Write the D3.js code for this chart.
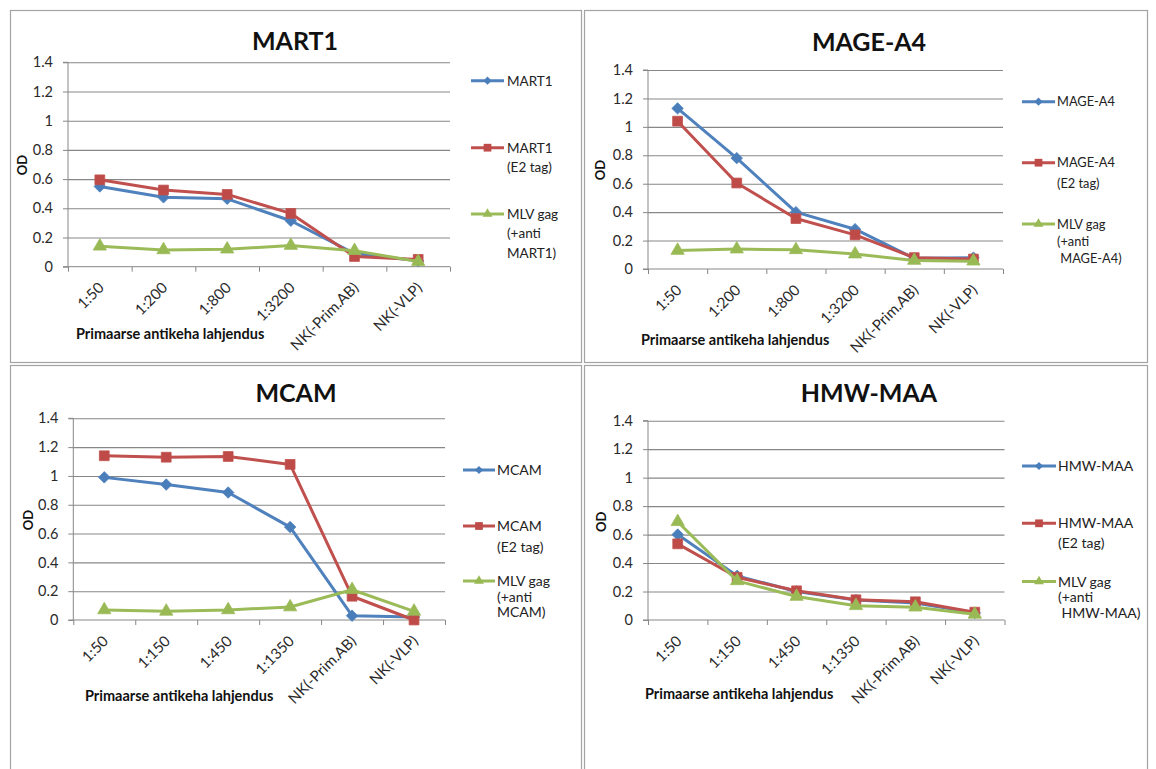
<!DOCTYPE html>
<html>
<head>
<meta charset="utf-8">
<script src="https://cdn.jsdelivr.net/npm/d3@7"></script>
<style>
  body { margin: 0; background: #fff; }
  svg { display: block; }
  text { font-family: Lato, "Noto Sans", sans-serif; }
</style>
</head>
<body>
<svg id="chart" width="1156" height="769"></svg>
<script>
// Dilution steps on the x axis
const dilutionsA = ["1:50", "1:200", "1:800", "1:3200", "NK(-Prim.AB)", "NK(-VLP)"];
const dilutionsB = ["1:50", "1:150", "1:450", "1:1350", "NK(-Prim.AB)", "NK(-VLP)"];
const odTicks = [0, 0.2, 0.4, 0.6, 0.8, 1, 1.2, 1.4];
const panelTitles = ["MART1", "MAGE-A4", "MCAM", "HMW-MAA"];
const xAxisTitle = "Primaarse antikeha lahjendus";
const yAxisTitle = "OD";

// OD readings per antigen: VLP, VLP with E2 tag, MLV gag control
const mart1 = [0.55, 0.475, 0.465, 0.315, 0.09, 0.04];
const mart1E2 = [0.595, 0.525, 0.495, 0.365, 0.07, 0.05];
const mart1Gag = [0.14, 0.115, 0.12, 0.145, 0.11, 0.035];

const mageA4 = [1.13, 0.78, 0.40, 0.28, 0.075, 0.08];
const mageA4E2 = [1.04, 0.605, 0.355, 0.24, 0.08, 0.07];
const mageA4Gag = [0.13, 0.14, 0.135, 0.105, 0.06, 0.055];

const mcam = [0.99, 0.94, 0.885, 0.645, 0.03, 0.02];
const mcamE2 = [1.14, 1.13, 1.135, 1.08, 0.165, 0.0];
const mcamGag = [0.07, 0.06, 0.07, 0.09, 0.21, 0.06];

const hmwMaa = [0.60, 0.31, 0.20, 0.14, 0.12, 0.05];
const hmwMaaE2 = [0.535, 0.30, 0.205, 0.142, 0.128, 0.055];
const hmwMaaGag = [0.69, 0.275, 0.165, 0.10, 0.09, 0.04];

// Legend entries (wrapped as in the legend box)
const legendMART1 = [["MART1"], ["MART1", "(E2 tag)"], ["MLV gag", "(+anti", "MART1)"]];
const legendMAGEA4 = [["MAGE-A4"], ["MAGE-A4", "(E2 tag)"], ["MLV gag", "(+anti", " MAGE-A4)"]];
const legendMCAM = [["MCAM"], ["MCAM", "(E2 tag)"], ["MLV gag", "(+anti", "MCAM)"]];
const legendHMWMAA = [["HMW-MAA"], ["HMW-MAA", "(E2 tag)"], ["MLV gag", "(+anti", " HMW-MAA)"]];

// Series styling: line colour, marker colour, marker shape
const seriesStyles = [
  { line: "#4F81BD", fill: "#4A7EBB", shape: "diamond", size: 66, legendSize: 34 },
  { line: "#C0504D", fill: "#BE4B48", shape: "square", size: 96, legendSize: 60 },
  { line: "#9BBB59", fill: "#98B954", shape: "triangle", size: 76, legendSize: 42 }
];

// Geometry of the four chart panels
const layouts = [
  { box: [10, 10, 581, 362], plot: { l: 68, r: 450, t: 62.3, b: 266.7 },
    title: [295, 50], od: [22, 165], xTitle: [76, 339],
    legend: { x1: 471, x2: 504, tx: 507, size: 13.5, rows: [[80.7], [147.7, 167.3], [214, 233.3, 252.7]] } },
  { box: [584, 10, 1147, 362], plot: { l: 648, r: 1003, t: 70, b: 269 },
    title: [869, 51], od: [600, 170], xTitle: [641, 345],
    legend: { x1: 1022, x2: 1055, tx: 1057, size: 12.8, rows: [[101.7], [162.7, 183.3], [224, 241, 258]] } },
  { box: [10, 365, 581, 800], plot: { l: 73.3, r: 445, t: 418.3, b: 620 },
    title: [296, 402], od: [28, 520], xTitle: [85, 701],
    legend: { x1: 463, x2: 495, tx: 497, size: 14, rows: [[470], [526, 547.3], [581, 597, 612]] } },
  { box: [584, 365, 1147, 800], plot: { l: 648, r: 1004.5, t: 420.7, b: 620 },
    title: [869, 402], od: [601, 521.7], xTitle: [645, 699],
    legend: { x1: 1022, x2: 1056, tx: 1058, size: 14, rows: [[466], [523.3, 543.3], [581.5, 597, 613]] } }
];

const panels = [
  { title: panelTitles[0], cats: dilutionsA, series: [mart1, mart1E2, mart1Gag], legend: legendMART1 },
  { title: panelTitles[1], cats: dilutionsA, series: [mageA4, mageA4E2, mageA4Gag], legend: legendMAGEA4 },
  { title: panelTitles[2], cats: dilutionsB, series: [mcam, mcamE2, mcamGag], legend: legendMCAM },
  { title: panelTitles[3], cats: dilutionsB, series: [hmwMaa, hmwMaaE2, hmwMaaGag], legend: legendHMWMAA }
];

// Square diamond (equal width and height) for the first series
const symbolSquareDiamond = {
  draw(context, size) {
    const r = Math.sqrt(size / 2);
    context.moveTo(0, -r);
    context.lineTo(r, 0);
    context.lineTo(0, r);
    context.lineTo(-r, 0);
    context.closePath();
  }
};
const shapeTypes = { diamond: symbolSquareDiamond, square: d3.symbolSquare, triangle: d3.symbolTriangle };

const svg = d3.select("#chart");
const gridColor = "#878787";

panels.forEach((panel, pi) => {
  const L = layouts[pi];
  const g = svg.append("g").attr("class", "panel");
  const { l, r, t, b } = L.plot;

  // panel frame
  g.append("rect")
    .attr("x", L.box[0] + 0.5).attr("y", L.box[1] + 0.5)
    .attr("width", L.box[2] - L.box[0]).attr("height", L.box[3] - L.box[1])
    .attr("fill", "#fff").attr("stroke", "#a3a3a3").attr("stroke-width", 1.2);

  const x = d3.scaleBand().domain(panel.cats).range([l, r]).padding(0);
  const xIdx = d3.scaleLinear().domain([0, panel.cats.length]).range([l, r]);
  const y = d3.scaleLinear().domain([0, 1.4]).range([b, t]);
  const cx = c => x(c) + x.bandwidth() / 2;

  // horizontal gridlines
  const grid = g.append("g").attr("transform", `translate(${l},0)`)
    .call(d3.axisLeft(y).tickValues(odTicks.filter(v => v > 0)).tickSize(-(r - l)).tickFormat(""));
  grid.select(".domain").remove();
  grid.selectAll("line").attr("stroke", gridColor).attr("stroke-width", 1.1);

  // y axis
  const yAxis = g.append("g").attr("transform", `translate(${l},0)`)
    .call(d3.axisLeft(y).tickValues(odTicks).tickSize(5).tickPadding(10).tickFormat(d => String(d)));
  yAxis.attr("font-size", null);
  yAxis.select(".domain").attr("stroke", gridColor).attr("d", `M-5,${b}H0V${t}H-5`);
  yAxis.selectAll("line").attr("stroke", gridColor);
  yAxis.selectAll("text").style("font-size", "14.5px").attr("fill", "#2a2a2a");

  // x axis tick marks at category boundaries
  const xTicks = g.append("g").attr("transform", `translate(0,${b})`)
    .call(d3.axisBottom(xIdx).tickValues(d3.range(0, panel.cats.length + 1)).tickSize(5).tickFormat(""));
  xTicks.select(".domain").attr("stroke", gridColor).attr("d", `M${l},0H${r}`);
  xTicks.selectAll("line").attr("stroke", gridColor);

  // rotated category labels
  const xLabels = g.append("g").attr("transform", `translate(0,${b})`)
    .call(d3.axisBottom(x).tickSize(0));
  xLabels.attr("font-size", null);
  xLabels.select(".domain").remove();
  xLabels.selectAll("text")
    .attr("x", 0).attr("y", 0).attr("dy", 0)
    .attr("text-anchor", "end")
    .attr("transform", "translate(5,22) rotate(-45)")
    .style("font-size", "15px").attr("fill", "#2a2a2a");

  // series lines and markers
  panel.series.forEach((vals, si) => {
    const st = seriesStyles[si];
    const line = d3.line().x((d, i) => cx(panel.cats[i])).y(d => y(d));
    g.append("path").datum(vals)
      .attr("d", line).attr("fill", "none")
      .attr("stroke", st.line).attr("stroke-width", 3).attr("stroke-linejoin", "round");
    g.selectAll(null).data(vals).enter().append("path")
      .attr("transform", (d, i) => `translate(${cx(panel.cats[i])},${y(d)})`)
      .attr("d", d3.symbol(shapeTypes[st.shape], st.size))
      .attr("fill", st.fill).attr("stroke", st.line).attr("stroke-width", 0.8);
  });

  // legend
  const lg = L.legend;
  panel.legend.forEach((lines, si) => {
    const st = seriesStyles[si];
    const ry = lg.rows[si][0];
    g.append("line").attr("x1", lg.x1).attr("x2", lg.x2).attr("y1", ry).attr("y2", ry)
      .attr("stroke", st.line).attr("stroke-width", 3);
    g.append("path")
      .attr("transform", `translate(${(lg.x1 + lg.x2) / 2},${ry})`)
      .attr("d", d3.symbol(shapeTypes[st.shape], st.legendSize))
      .attr("fill", st.fill);
    lines.forEach((txt, k) => {
      g.append("text").attr("x", lg.tx).attr("y", lg.rows[si][k]).attr("dy", "0.36em")
        .attr("font-size", lg.size).attr("fill", "#222")
        .attr("xml:space", "preserve").style("white-space", "pre")
        .text(txt);
    });
  });

  // titles
  g.append("text").attr("x", L.title[0]).attr("y", L.title[1])
    .attr("text-anchor", "middle").attr("font-size", 25).attr("font-weight", 700)
    .attr("fill", "#111").text(panel.title);
  g.append("text")
    .attr("transform", `translate(${L.od[0]},${L.od[1]}) rotate(-90)`)
    .attr("text-anchor", "middle").attr("dy", "0.36em")
    .attr("font-size", 13).attr("font-weight", 700).attr("fill", "#111")
    .text(yAxisTitle);
  g.append("text").attr("x", L.xTitle[0]).attr("y", L.xTitle[1])
    .attr("font-size", 14.5).attr("font-weight", 700).attr("fill", "#111")
    .text(xAxisTitle);
});
</script>
</body>
</html>
